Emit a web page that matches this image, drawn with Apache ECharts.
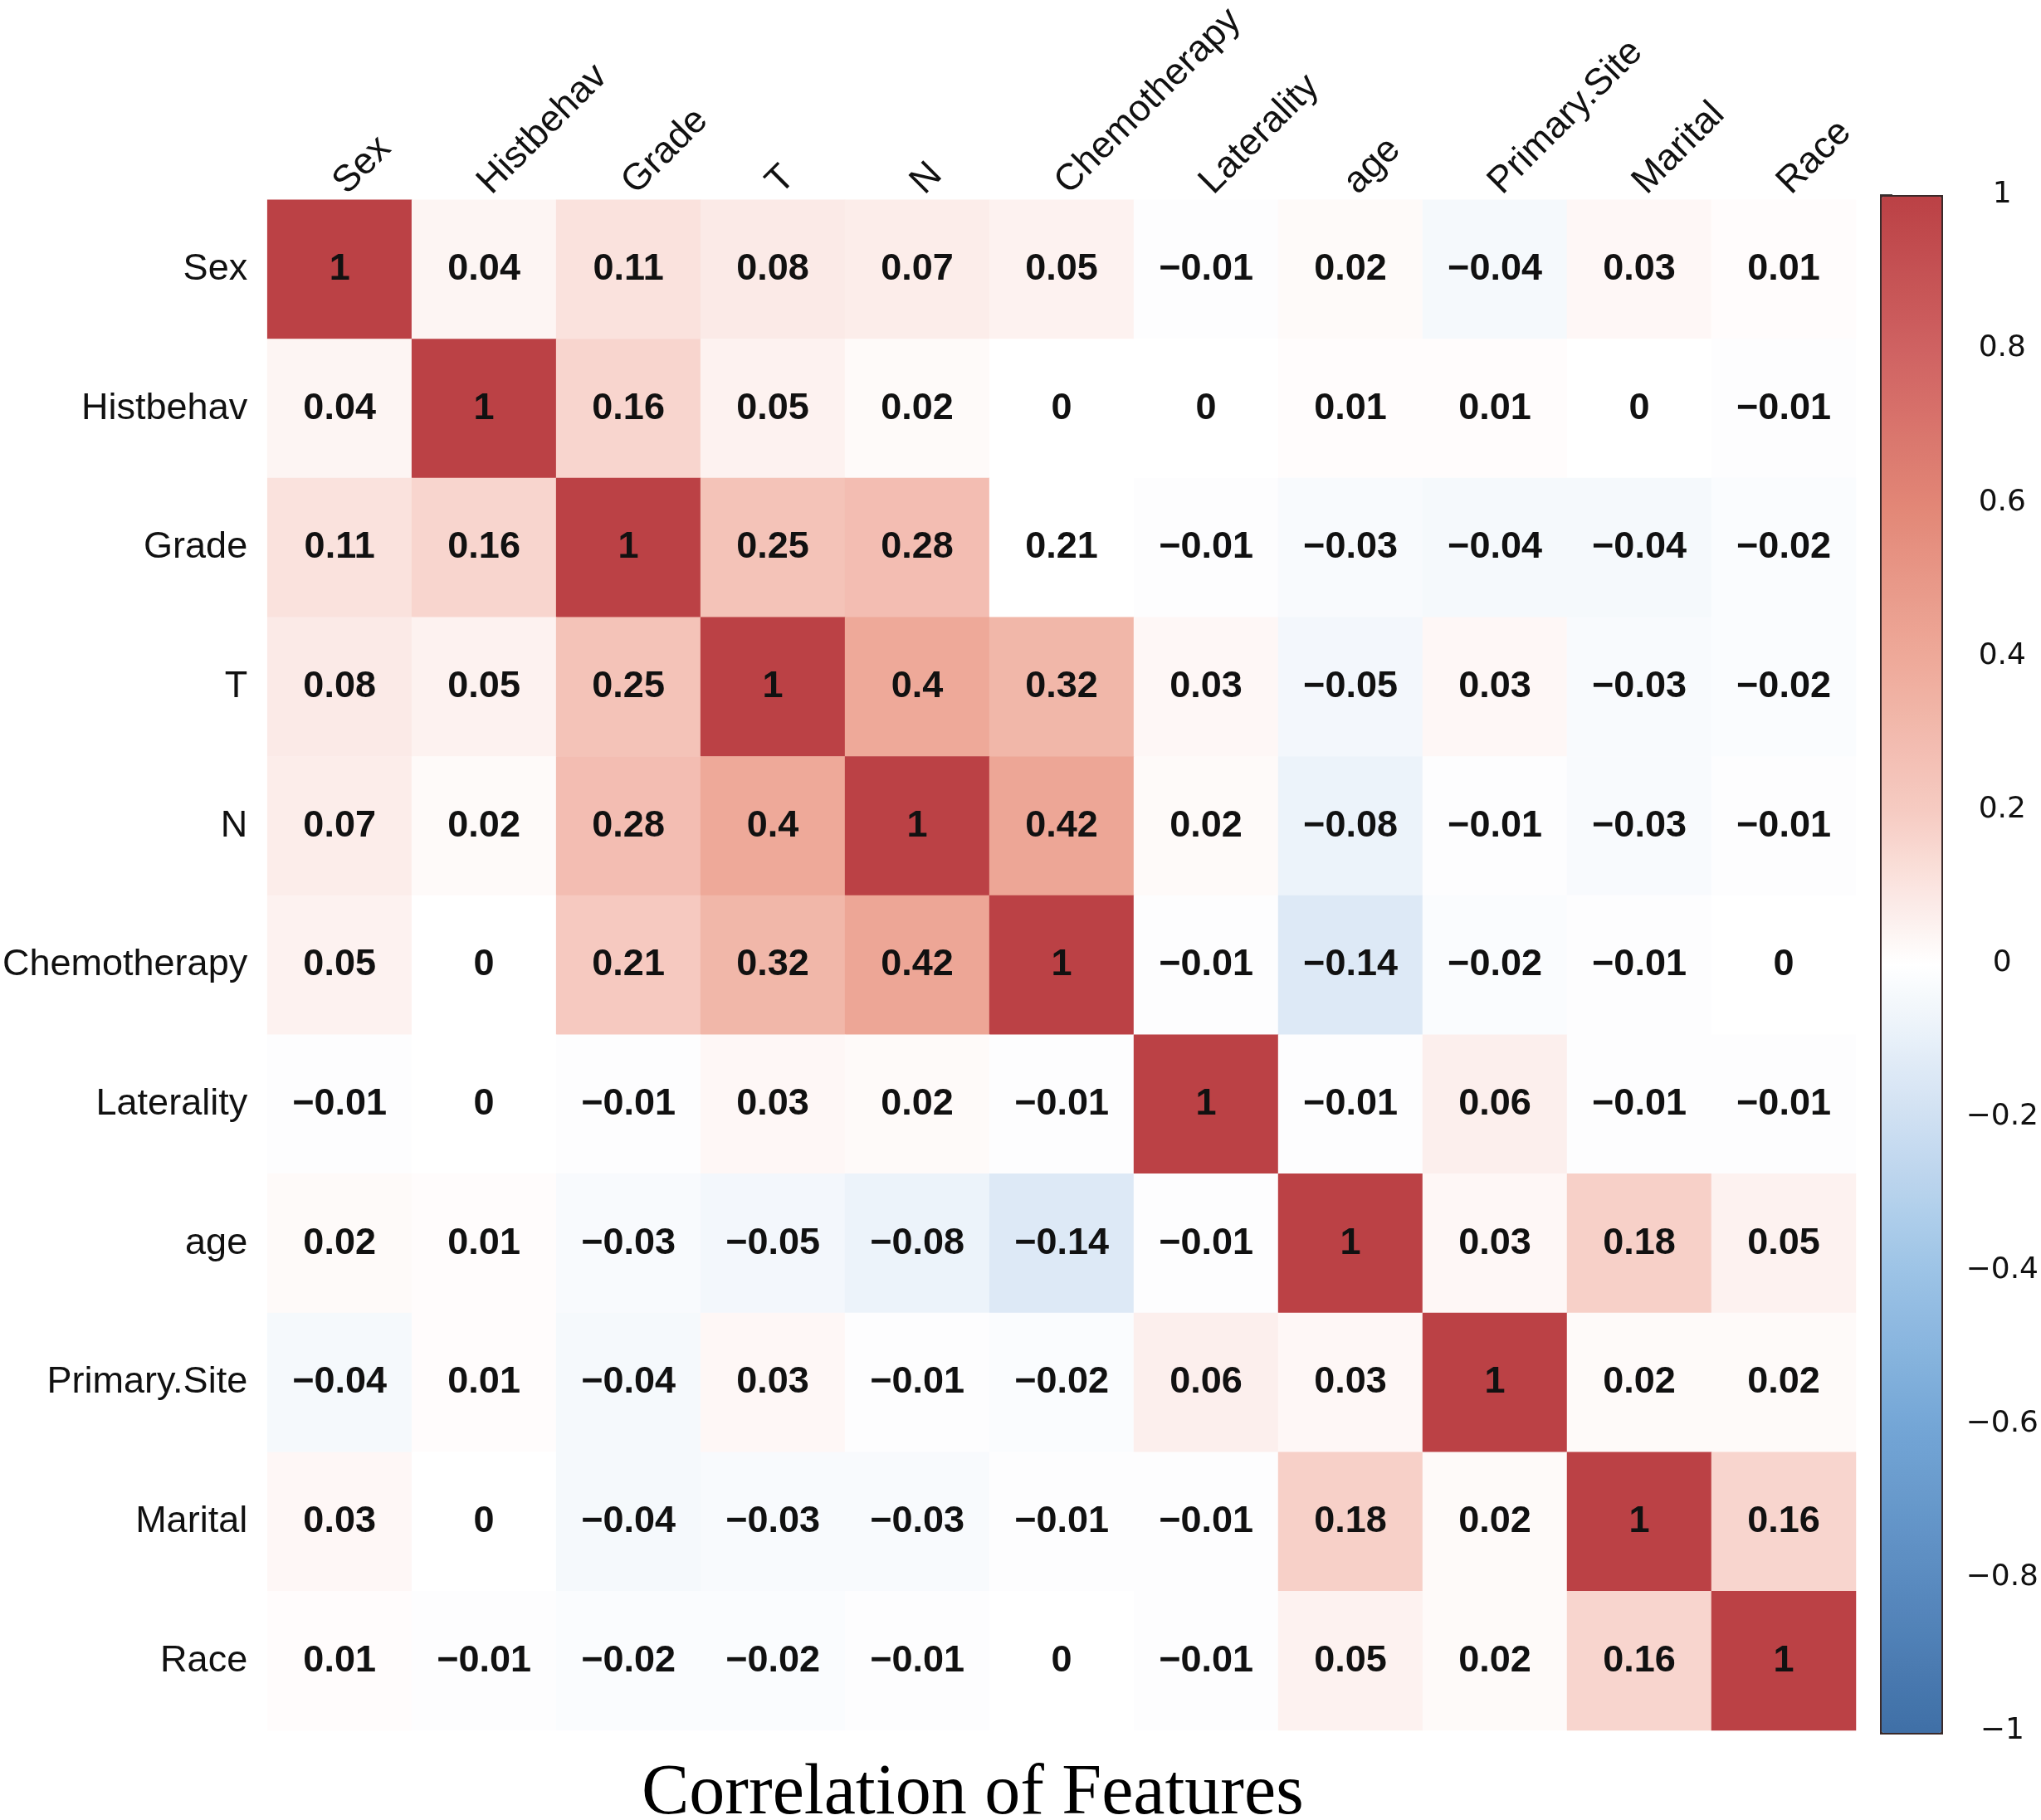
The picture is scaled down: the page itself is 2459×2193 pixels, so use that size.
<!DOCTYPE html>
<html>
<head>
<meta charset="utf-8">
<title>Correlation of Features</title>
<script src="https://cdn.jsdelivr.net/npm/echarts@6/dist/echarts.min.js"></script>
<style>
  html, body { margin: 0; padding: 0; background: #fff; }
  #heatmap_echarts { width: 2459px; height: 2193px; }
</style>
</head>
<body>
<div id="heatmap_echarts"></div>
<script>
var features = ['Sex', 'Histbehav', 'Grade', 'T', 'N', 'Chemotherapy',
    'Laterality', 'age', 'Primary.Site', 'Marital', 'Race'];

// one row per feature, same order as the columns
var rowSex        = [1, 0.04, 0.11, 0.08, 0.07, 0.05, -0.01, 0.02, -0.04, 0.03, 0.01];
var rowHistbehav  = [0.04, 1, 0.16, 0.05, 0.02, 0, 0, 0.01, 0.01, 0, -0.01];
var rowGrade      = [0.11, 0.16, 1, 0.25, 0.28, 0.21, -0.01, -0.03, -0.04, -0.04, -0.02];
var rowT          = [0.08, 0.05, 0.25, 1, 0.4, 0.32, 0.03, -0.05, 0.03, -0.03, -0.02];
var rowN          = [0.07, 0.02, 0.28, 0.4, 1, 0.42, 0.02, -0.08, -0.01, -0.03, -0.01];
var rowChemo      = [0.05, 0, 0.21, 0.32, 0.42, 1, -0.01, -0.14, -0.02, -0.01, 0];
var rowLaterality = [-0.01, 0, -0.01, 0.03, 0.02, -0.01, 1, -0.01, 0.06, -0.01, -0.01];
var rowAge        = [0.02, 0.01, -0.03, -0.05, -0.08, -0.14, -0.01, 1, 0.03, 0.18, 0.05];
var rowPrimary    = [-0.04, 0.01, -0.04, 0.03, -0.01, -0.02, 0.06, 0.03, 1, 0.02, 0.02];
var rowMarital    = [0.03, 0, -0.04, -0.03, -0.03, -0.01, -0.01, 0.18, 0.02, 1, 0.16];
var rowRace       = [0.01, -0.01, -0.02, -0.02, -0.01, 0, -0.01, 0.05, 0.02, 0.16, 1];

var colorbarTicks = [-1, -0.8, -0.6, -0.4, -0.2, 0, 0.2, 0.4, 0.6, 0.8, 1];

document.addEventListener('DOMContentLoaded', function () {
    var chartDom = document.getElementById('heatmap_echarts');
    var myChart = echarts.init(chartDom);
    var option;

    var rows = [rowSex, rowHistbehav, rowGrade, rowT, rowN, rowChemo,
        rowLaterality, rowAge, rowPrimary, rowMarital, rowRace];

    var cells = [];
    rows.forEach(function (row, y) {
        row.forEach(function (v, x) {
            var item = { value: [x, y, v] };
            // the source figure shows this one cell unshaded
            if (y === 2 && x === 5) {
                item.itemStyle = { color: '#ffffff' };
            }
            cells.push(item);
        });
    });

    function fmt(v) {
        return String(v).replace('-', '\u2212');
    }

    option = {
        backgroundColor: '#ffffff',
        animation: false,
        title: {
            text: 'Correlation of Features',
            left: 768,
            top: 2114,
            textStyle: {
                fontFamily: 'Liberation Serif, Times New Roman, serif',
                fontWeight: 'normal',
                fontSize: 86,
                color: '#000'
            }
        },
        grid: [
            { left: 322, right: 223, top: 235, bottom: 108 },
            { left: 2265, width: 72, top: 235, bottom: 107 }
        ],
        xAxis: [
            {
                type: 'category',
                data: features,
                position: 'top',
                gridIndex: 0,
                axisLine: { show: false },
                axisTick: { show: false },
                splitArea: { show: false },
                axisLabel: {
                    rotate: -45,
                    margin: 14,
                    fontSize: 45,
                    fontFamily: 'Liberation Sans, Arial, sans-serif',
                    color: '#111'
                }
            },
            { type: 'value', gridIndex: 1, show: false, min: 0, max: 1 }
        ],
        yAxis: [
            {
                type: 'category',
                data: features,
                inverse: true,
                gridIndex: 0,
                axisLine: { show: false },
                axisTick: { show: false },
                axisLabel: {
                    margin: 24,
                    fontSize: 45,
                    fontFamily: 'Liberation Sans, Arial, sans-serif',
                    color: '#111'
                }
            },
            {
                type: 'value',
                gridIndex: 1,
                position: 'right',
                min: colorbarTicks[0],
                max: colorbarTicks[colorbarTicks.length - 1],
                interval: 0.2,
                splitLine: { show: false },
                axisLine: { show: false },
                axisTick: { show: true, length: 15, lineStyle: { color: '#444', width: 2 } },
                axisLabel: {
                    margin: 82,
                    align: 'center',
                    fontSize: 36,
                    fontFamily: 'DejaVu Sans, sans-serif',
                    color: '#111',
                    formatter: function (v) {
                        return fmt(+v.toFixed(1));
                    }
                }
            }
        ],
        visualMap: {
            type: 'continuous',
            seriesIndex: 0,
            min: -1,
            max: 1,
            calculable: false,
            orient: 'vertical',
            left: 2265,
            top: 235,
            itemWidth: 72,
            itemHeight: 1851,
            padding: 0,
            borderColor: '#3a2a2a',
            borderWidth: 4,
            inRange: {
                color: ['#3f6fa6', '#5a8bc0', '#74a6d6', '#9cc3e6', '#cfe0f2', '#ffffff',
                    '#f6cbc2', '#eea999', '#e28676', '#cf6262', '#bb4145']
            }
        },
        series: [
            {
                name: 'Correlation',
                type: 'heatmap',
                xAxisIndex: 0,
                yAxisIndex: 0,
                data: cells,
                label: {
                    show: true,
                    fontSize: 45,
                    fontWeight: 'bold',
                    fontFamily: 'Liberation Sans, Arial, sans-serif',
                    color: '#111',
                    formatter: function (p) {
                        return fmt(p.value[2]);
                    }
                },
                itemStyle: { borderWidth: 0 }
            },
            {
                type: 'line',
                xAxisIndex: 1,
                yAxisIndex: 1,
                data: []
            }
        ]
    };

    option && myChart.setOption(option);
});
</script>
</body>
</html>
